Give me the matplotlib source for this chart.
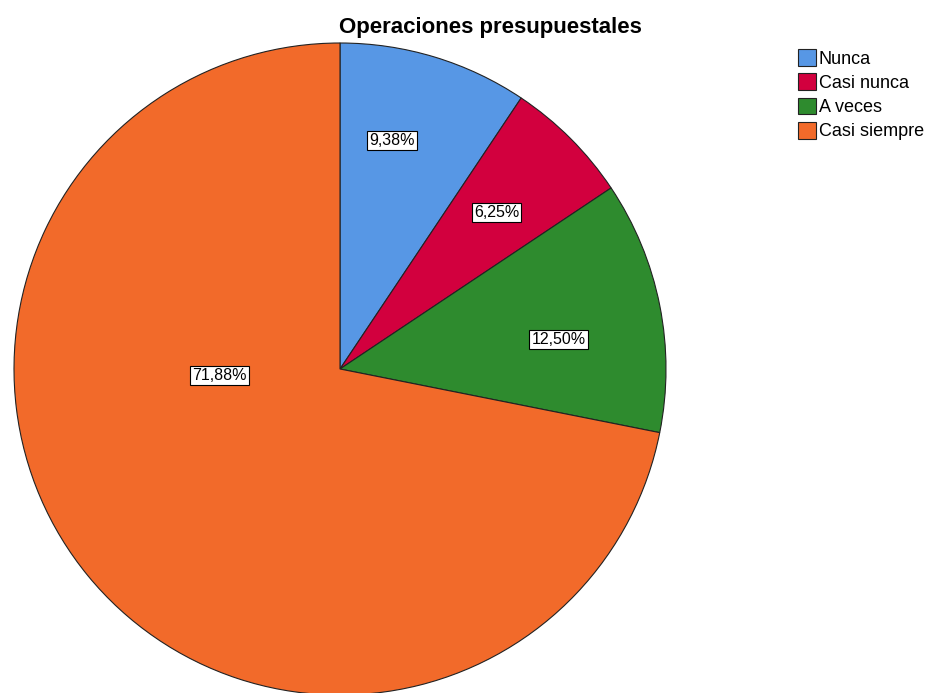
import matplotlib.pyplot as plt
import numpy as np

categories = ["Nunca", "Casi nunca", "A veces", "Casi siempre"]
percentages = [9.38, 6.25, 12.50, 71.88]
colors = ["#5797E5", "#D2003E", "#2E8B2E", "#F26A2A"]

plt.rcParams["font.family"] = ["Liberation Sans", "DejaVu Sans"]

fig = plt.figure(figsize=(9.25, 6.93), dpi=100)
# pie centred near (340, 369) px with radius ~326 px
ax = fig.add_axes([14 / 925, -2 / 693, 652 / 925, 652 / 693])

wedges, texts, autotexts = ax.pie(
    percentages,
    colors=colors,
    startangle=90,
    counterclock=False,
    autopct="%1.2f",
    pctdistance=0.68,
    wedgeprops={"edgecolor": "#222222", "linewidth": 0.8},
    textprops={"fontsize": 11.5},
)
ax.set_xlim(-1, 1)
ax.set_ylim(-1, 1)
ax.set_aspect("equal")
ax.axis("off")

for t, p in zip(autotexts, percentages):
    t.set_text(f"{p:.2f}%".replace(".", ","))
    t.set_bbox({"facecolor": "white", "edgecolor": "black", "linewidth": 0.8, "pad": 1.5})

# SPSS-like label placement
autotexts[0].set_position((0.16, 0.70))
autotexts[2].set_position((0.67, 0.09))
autotexts[3].set_position((-0.37, -0.02))

fig.text(490 / 925, 1 - 27 / 693, "Operaciones presupuestales",
         ha="center", va="center", fontsize=16, fontweight="bold")

leg = fig.legend(wedges, categories, loc="upper left",
                 bbox_to_anchor=(789 / 925, 1 - 40 / 693),
                 frameon=False, fontsize=13, handlelength=1.0, handleheight=1.05,
                 handletextpad=0.15, labelspacing=0.32, borderpad=0)

fig.savefig("out.png", dpi=100)
